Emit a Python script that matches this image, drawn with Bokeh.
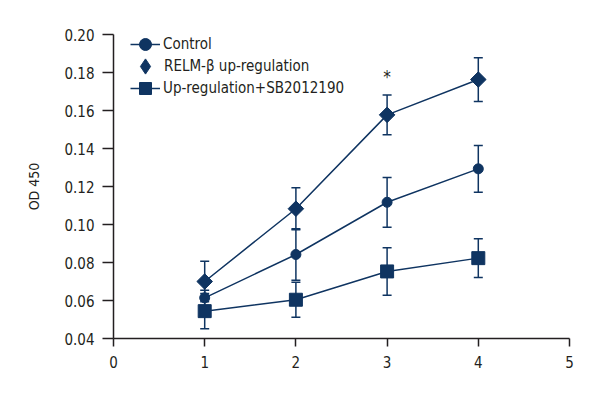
from bokeh.plotting import figure
from bokeh.models import (ColumnDataSource, Whisker, TeeHead, Legend, LegendItem, Range1d,
                          FixedTicker, CustomJSTickFormatter)
from bokeh.core.properties import value
from bokeh.embed import file_html
from bokeh.resources import INLINE
import numpy as np

days = [1, 2, 3, 4]
control = [0.0614, 0.0842, 0.1117, 0.1293]
control_err = [0.004, 0.0135, 0.0131, 0.0123]
relm = [0.0700, 0.1083, 0.1577, 0.1763]
relm_err = [0.0107, 0.0110, 0.0105, 0.0115]
sb = [0.0544, 0.0604, 0.0753, 0.0823]
sb_err = [0.0093, 0.0092, 0.0125, 0.0102]
labels = ["Control", "RELM-\u03b2 up-regulation", "Up-regulation+SB2012190"]
star_x = [3]
star_y = [0.1795]
x_ticks = [0, 1, 2, 3, 4, 5]
y_ticks = [0.04, 0.06, 0.08, 0.10, 0.12, 0.14, 0.16, 0.18, 0.20]

FONT = "DejaVu Sans Condensed, Liberation Sans Narrow, Roboto, sans-serif"
C = "#0f3461"
AX = "#231f20"

p = figure(frame_width=456, frame_height=304, output_backend="svg", toolbar_location=None,
           x_range=Range1d(0, 5), y_range=Range1d(0.04, 0.20),
           min_border_left=113, min_border_right=31, min_border_top=34, min_border_bottom=62)
p.outline_line_color = None
p.xgrid.visible = False
p.ygrid.visible = False

for ax in (p.xaxis[0], p.yaxis[0]):
    ax.axis_line_color = AX
    ax.axis_line_width = 1.5
    ax.major_tick_line_color = AX
    ax.major_tick_line_width = 1.5
    ax.minor_tick_line_color = None
    ax.major_label_text_font = FONT
    ax.major_label_text_font_size = "15px"
    ax.major_label_text_color = AX
    ax.axis_label_text_font = FONT
    ax.axis_label_text_font_style = "normal"
    ax.axis_label_text_color = AX

p.xaxis.ticker = FixedTicker(ticks=x_ticks)
p.yaxis.ticker = FixedTicker(ticks=y_ticks)
p.yaxis.formatter = CustomJSTickFormatter(code="return tick.toFixed(2);")
p.xaxis.major_tick_out = 8
p.xaxis.major_tick_in = 0
p.yaxis.major_tick_out = 11
p.yaxis.major_tick_in = 0
p.xaxis.major_label_standoff = 9
p.yaxis.major_label_standoff = 8
p.yaxis.axis_label = "OD 450"
p.yaxis.axis_label_text_font_size = "14px"
p.yaxis.axis_label_standoff = 19

series = [
    (control, control_err, "circle", 10, 0),
    (relm, relm_err, "square", 11, np.pi / 4),
    (sb, sb_err, "square", 13, 0),
]

rends = []
for vals, err, marker, size, ang in series:
    src = ColumnDataSource(dict(x=days, y=vals,
                                lo=[v - e for v, e in zip(vals, err)],
                                hi=[v + e for v, e in zip(vals, err)]))
    w = Whisker(source=src, base="x", lower="lo", upper="hi", line_color=C, line_width=1.5,
                upper_head=TeeHead(size=9, line_color=C, line_width=1.5),
                lower_head=TeeHead(size=9, line_color=C, line_width=1.5))
    p.add_layout(w)
    ln = p.line("x", "y", source=src, line_color=C, line_width=1.5)
    if marker == "square" and ang:
        # diamond glyph used for the legend, drawn under the rotated-square markers
        dia = p.scatter("x", "y", source=src, marker="diamond", size=14,
                        fill_color=C, line_color=C)
    sc = p.scatter("x", "y", source=src, marker=marker, size=size, angle=ang,
                   fill_color=C, line_color=C)
    rends.append((ln, sc))

p.text(x=star_x, y=star_y, text=["*"], text_align="center", text_baseline="middle",
       y_offset=4, text_font=value(FONT), text_font_size="17px", text_color=AX)

def add_leg(item, x, y, gw, gh, standoff):
    lg = Legend(items=[item], location=(x, y), padding=0, margin=0, spacing=0,
                glyph_width=gw, glyph_height=gh, label_height=gh, label_standoff=standoff,
                label_text_font=FONT, label_text_font_size="15px", label_text_color=AX,
                background_fill_alpha=0, border_line_color=None)
    p.add_layout(lg)

# legend rows (centres below frame top: 10, 32, 54 px)
add_leg(LegendItem(label=labels[0], renderers=list(rends[0])), 32 - 15, 304 - 10 - 16, 30, 32, 3)
add_leg(LegendItem(label=labels[1], renderers=[dia]), 32 - 19, 304 - 32 - 22, 38, 44, 0)
add_leg(LegendItem(label=labels[2], renderers=list(rends[2])), 32 - 15, 304 - 54 - 16, 30, 32, 3)

open("out.html", "w").write(file_html(p, INLINE))
